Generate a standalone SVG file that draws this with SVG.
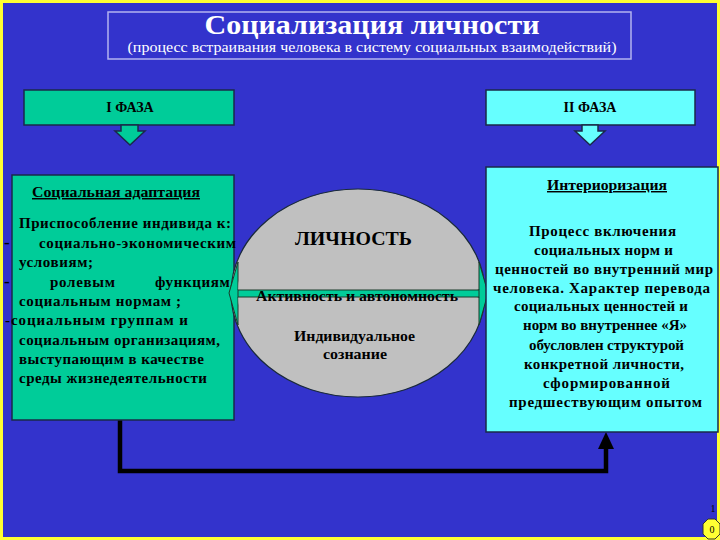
<svg xmlns="http://www.w3.org/2000/svg" width="720" height="540" viewBox="0 0 720 540">
<style>
.t{font-family:"Liberation Serif","Times New Roman",serif;font-weight:bold;fill:#000;}
.box{stroke:#1a2a4a;stroke-width:1.5;}
.g{fill:#00CC99;}
.c{fill:#66FFFF;}
.b{font-size:15px;}
</style>
<rect x="0" y="0" width="720" height="540" fill="#3333CC"/>
<rect x="1.5" y="1.5" width="717" height="537" fill="none" stroke="#FFFF33" stroke-width="3"/>

<g id="title">
<rect x="108" y="12" width="523" height="47" fill="none" stroke="#B4B4F0" stroke-width="1.5"/>
<text x="372" y="34" text-anchor="middle" font-family="'Liberation Serif', 'Times New Roman', serif" font-weight="bold" font-size="28" fill="#fff" textLength="335" lengthAdjust="spacingAndGlyphs">Социализация личности</text>
<text x="372" y="52" text-anchor="middle" font-family="'Liberation Serif', 'Times New Roman', serif" font-size="15" fill="#fff" textLength="489" lengthAdjust="spacingAndGlyphs">(процесс встраивания человека в систему социальных взаимодействий)</text>
</g>

<g id="phase1">
<rect class="box g" x="24" y="90" width="210" height="35"/>
<text class="t" x="130" y="112" text-anchor="middle" font-size="14">I ФАЗА</text>
<polygon class="box g" points="121,125 138,125 138,131 145,131 130,145 115,131 121,131"/>
</g>

<g id="phase2">
<rect class="box c" x="486" y="90" width="209" height="35"/>
<text class="t" x="590" y="112" text-anchor="middle" font-size="14">II ФАЗА</text>
<polygon class="box c" points="582,125 598,125 598,131 605,131 590,145 575,131 582,131"/>
</g>

<g id="connectors">
<polyline points="120,420 120,471 606,471 606,446" fill="none" stroke="#000" stroke-width="4.5"/>
<polygon points="606,432 598,449 614,449" fill="#000"/>
</g>

<g id="adaptation">
<rect class="box g" x="12" y="175" width="222" height="245"/>
<text class="t" x="32" y="197" font-size="14.5" text-decoration="underline" textLength="168" lengthAdjust="spacingAndGlyphs">Социальная адаптация</text>
<text class="t b" x="19" y="228" textLength="212" lengthAdjust="spacing">Приспособление индивида к:</text>
<text class="t" x="4" y="248" font-size="17">-</text>
<text class="t b" x="39" y="248" textLength="197" lengthAdjust="spacing">социально-экономическим</text>
<text class="t b" x="19" y="267" textLength="74" lengthAdjust="spacing">условиям;</text>
<text class="t" x="4" y="287" font-size="17">-</text>
<text class="t b" x="50" y="287" textLength="65" lengthAdjust="spacing">ролевым</text>
<text class="t b" x="155" y="287" textLength="79" lengthAdjust="spacing">функциям,</text>
<text class="t b" x="19" y="306" textLength="162" lengthAdjust="spacing">социальным нормам ;</text>
<text class="t b" x="5" y="325" textLength="183" lengthAdjust="spacing">-социальным группам и</text>
<text class="t b" x="19" y="345" textLength="201" lengthAdjust="spacing">социальным организациям,</text>
<text class="t b" x="19" y="364" textLength="185" lengthAdjust="spacing">выступающим в качестве</text>
<text class="t b" x="19" y="383" textLength="188" lengthAdjust="spacing">среды жизнедеятельности</text>
</g>

<g id="personality">
<ellipse cx="358" cy="293" rx="127" ry="104" fill="#C0C0C0" stroke="#1a2a3a" stroke-width="1.2"/>
<polygon points="229,293 238,262 238,290 479,290 479,262 488,293 479,325 479,297 238,297 238,325" fill="#00CC99" stroke="#1a3a2a" stroke-width="1"/>
<ellipse cx="358" cy="293" rx="120" ry="103" fill="#C0C0C0"/>
<rect x="238" y="290" width="241" height="7" fill="#00CC99" stroke="#1a3a2a" stroke-width="1"/>
<text class="t" x="295" y="245" font-size="19" textLength="117" lengthAdjust="spacingAndGlyphs">ЛИЧНОСТЬ</text>
<text class="t" x="256" y="301" font-size="15" textLength="202" lengthAdjust="spacingAndGlyphs">Активность и автономность</text>
<text class="t" x="294" y="341" font-size="15" textLength="121" lengthAdjust="spacingAndGlyphs">Индивидуальное</text>
<text class="t" x="323" y="359" font-size="15" textLength="64" lengthAdjust="spacingAndGlyphs">сознание</text>
</g>

<g id="interiorization">
<rect class="box c" x="486" y="167" width="232" height="265"/>
<text class="t" x="547" y="190" font-size="14.5" text-decoration="underline" textLength="120" lengthAdjust="spacingAndGlyphs">Интериоризация</text>
<text class="t b" x="529" y="236" textLength="147" lengthAdjust="spacing">Процесс включения</text>
<text class="t b" x="534" y="255" textLength="139" lengthAdjust="spacing">социальных норм и</text>
<text class="t b" x="495" y="274" textLength="218" lengthAdjust="spacing">ценностей во внутренний мир</text>
<text class="t b" x="493" y="293" textLength="217" lengthAdjust="spacing">человека. Характер перевода</text>
<text class="t b" x="514" y="311" textLength="174" lengthAdjust="spacing">социальных ценностей и</text>
<text class="t b" x="523" y="330" textLength="164" lengthAdjust="spacing">норм во внутреннее «Я»</text>
<text class="t b" x="529" y="350" textLength="155" lengthAdjust="spacing">обусловлен структурой</text>
<text class="t b" x="524" y="369" textLength="160" lengthAdjust="spacing">конкретной личности,</text>
<text class="t b" x="543" y="388" textLength="127" lengthAdjust="spacing">сформированной</text>
<text class="t b" x="509" y="407" textLength="193" lengthAdjust="spacing">предшествующим опытом</text>
</g>

<g id="pagenum">
<text x="713" y="512" text-anchor="middle" font-family="'Liberation Serif', serif" font-size="10" fill="#000">1</text>
<polygon points="708,519 715,519 720,524 720,534 715,539 708,539 703,534 703,524" fill="#FFFF33" stroke="#333" stroke-width="1"/>
<text x="712" y="533" text-anchor="middle" font-family="'Liberation Serif', serif" font-size="10" fill="#000">0</text>
</g>
</svg>
